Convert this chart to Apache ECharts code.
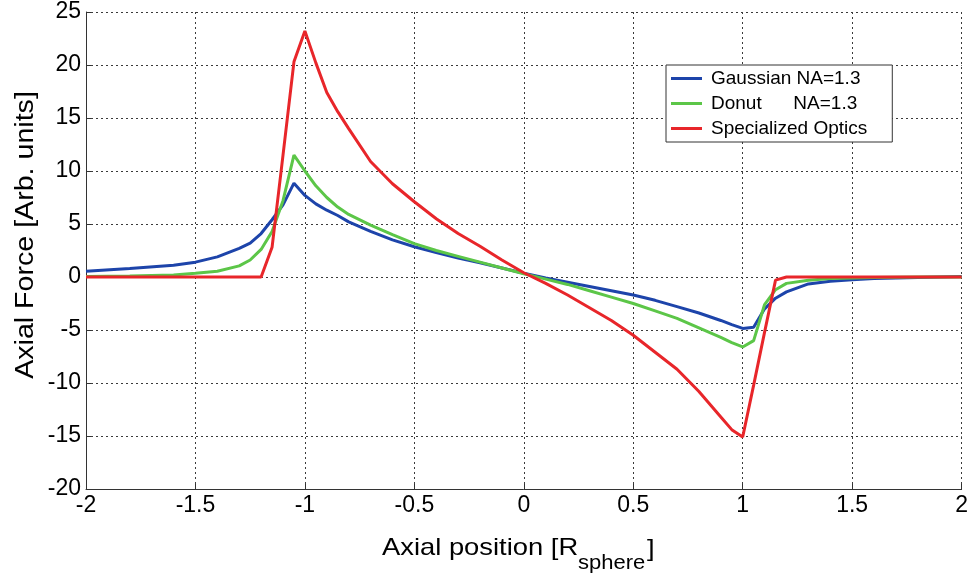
<!DOCTYPE html>
<html>
<head>
<meta charset="utf-8">
<script src="https://cdn.jsdelivr.net/npm/echarts@6/dist/echarts.min.js"></script>
<style>
  html, body { margin: 0; padding: 0; background: #fff; }
  #chart { width: 971px; height: 581px; }
</style>
</head>
<body>
<div id="chart"></div>
<script>
// Axial position samples [R_sphere]
const positions = [-2, -1.8, -1.6, -1.5, -1.4, -1.3, -1.25, -1.2, -1.15, -1.1,
  -1.05, -1.0, -0.95, -0.9, -0.85, -0.8, -0.7, -0.6, -0.5, -0.4,
  -0.3, -0.2, -0.1, 0, 0.1, 0.2, 0.3, 0.4, 0.5, 0.6,
  0.7, 0.8, 0.9, 0.95, 1.0, 1.05, 1.1, 1.15, 1.2, 1.3,
  1.4, 1.5, 1.6, 1.8, 2.0];

// Axial force for each beam type [Arb. units]
const gaussianForce = [0.55, 0.8, 1.1, 1.4, 1.9, 2.7, 3.2, 4.1, 5.4, 6.8,
  8.85, 7.7, 6.9, 6.3, 5.8, 5.2, 4.3, 3.5, 2.85, 2.3,
  1.8, 1.35, 0.85, 0.35, -0.1, -0.5, -0.9, -1.3, -1.7, -2.2,
  -2.8, -3.4, -4.1, -4.5, -4.85, -4.75, -3.0, -2.0, -1.4, -0.65,
  -0.4, -0.25, -0.15, -0.05, 0.05];

const donutForce = [0.05, 0.1, 0.2, 0.35, 0.55, 1.05, 1.6, 2.6, 4.3, 7.2,
  11.5, 10.0, 8.6, 7.5, 6.6, 5.9, 4.9, 4.0, 3.15, 2.5,
  1.95, 1.4, 0.85, 0.3, -0.2, -0.7, -1.3, -1.9, -2.5, -3.2,
  -3.9, -4.8, -5.7, -6.2, -6.6, -6.0, -2.6, -1.2, -0.6, -0.3,
  -0.15, -0.1, -0.05, 0, 0];

const specializedForce = [0, 0, 0, 0, 0, 0, 0, 0, 2.8, 11.5,
  20.3, 23.2, 20.2, 17.4, 15.6, 14.0, 10.9, 8.8, 7.1, 5.5,
  4.1, 2.9, 1.6, 0.4, -0.6, -1.7, -2.9, -4.1, -5.5, -7.1,
  -8.7, -10.8, -13.2, -14.4, -15.1, -10.2, -5.2, -0.3, 0, 0,
  0, 0, 0, 0, 0];

const seriesNames = ['Gaussian NA=1.3', 'Donut      NA=1.3', 'Specialized Optics'];
const seriesColors = ['#1d44aa', '#5cc648', '#e8262a'];
const seriesValues = [gaussianForce, donutForce, specializedForce];

const FONT = 'Arial, "Liberation Sans", Helvetica, sans-serif';

const chart = echarts.init(document.getElementById('chart'), null, { renderer: 'canvas' });

const gridLine = { show: true, lineStyle: { color: '#3a3a3a', width: 1, type: [2, 3] } };

chart.setOption({
  backgroundColor: '#ffffff',
  animation: false,
  grid: { left: 86, right: 7, top: 12, bottom: 92, containLabel: false },
  xAxis: {
    type: 'value', min: -2, max: 2, interval: 0.5,
    axisLine: { show: true, onZero: false, lineStyle: { color: '#333', width: 1 } },
    axisTick: { show: true, inside: true, length: 5, lineStyle: { color: '#333' } },
    axisLabel: { color: '#000', fontSize: 23, fontFamily: FONT, margin: 5 },
    splitLine: gridLine
  },
  yAxis: {
    type: 'value', min: -20, max: 25, interval: 5,
    axisLine: { show: true, onZero: false, lineStyle: { color: '#333', width: 1 } },
    axisTick: { show: true, inside: true, length: 5, lineStyle: { color: '#333' } },
    axisLabel: { color: '#000', fontSize: 23, fontFamily: FONT, margin: 5 },
    splitLine: gridLine
  },
  legend: {
    orient: 'vertical',
    left: 666, top: 65,
    padding: [4, 25, 4, 5],
    itemGap: 6,
    itemWidth: 31, itemHeight: 3,
    backgroundColor: '#fff',
    borderColor: '#333', borderWidth: 1,
    textStyle: { color: '#000', fontSize: 19, fontFamily: FONT, lineHeight: 19, padding: [0, 0, 0, 4] },
    data: seriesNames.map(n => ({ name: n, icon: 'rect' }))
  },
  series: seriesNames.map((name, k) => ({
    name: name,
    type: 'line',
    symbol: 'none',
    smooth: false,
    lineStyle: { color: seriesColors[k], width: 3 },
    itemStyle: { color: seriesColors[k] },
    data: positions.map((x, i) => [x, seriesValues[k][i]])
  })),
  graphic: [
    {
      type: 'text', x: 26, y: 235, rotation: Math.PI / 2, scaleX: 1.1,
      style: { text: 'Axial Force [Arb. units]', fill: '#000', font: '26px ' + FONT,
        align: 'center', verticalAlign: 'middle' }
    },
    {
      type: 'text', x: 382, y: 548, scaleX: 1.14,
      style: { text: 'Axial position [R', fill: '#000', font: '24px ' + FONT,
        align: 'left', verticalAlign: 'middle' }
    },
    {
      type: 'text', x: 578, y: 563, scaleX: 1.1,
      style: { text: 'sphere', fill: '#000', font: '20px ' + FONT,
        align: 'left', verticalAlign: 'middle' }
    },
    {
      type: 'text', x: 647, y: 549, scaleX: 1.14,
      style: { text: ']', fill: '#000', font: '24px ' + FONT,
        align: 'left', verticalAlign: 'middle' }
    }
  ]
});
</script>
</body>
</html>
